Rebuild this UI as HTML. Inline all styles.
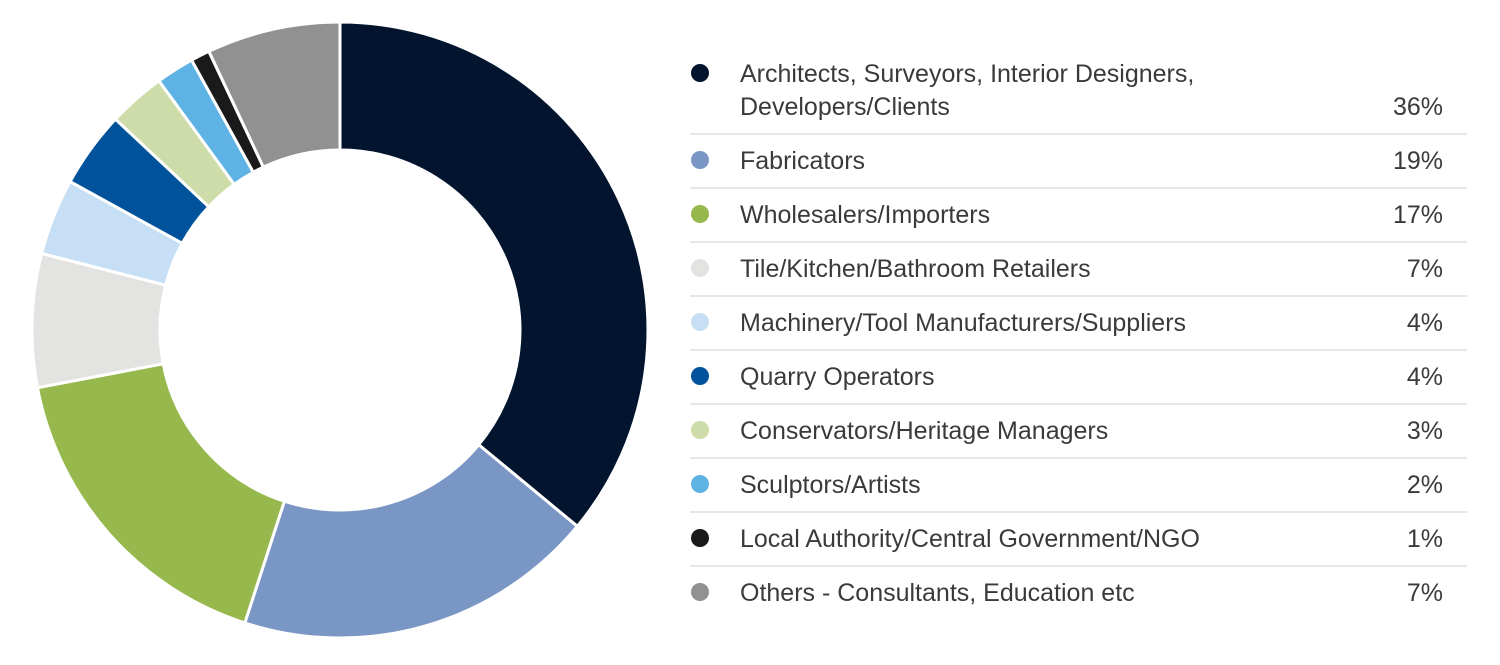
<!DOCTYPE html>
<html><head><meta charset="utf-8">
<style>
html,body{margin:0;padding:0;background:#fff;}
body{width:1500px;height:665px;position:relative;overflow:hidden;font-family:"Liberation Sans",sans-serif;}
svg{position:absolute;left:0;top:0;}
</style></head>
<body>
<svg id="chart" width="1500" height="665"></svg>
<script>
const categories=["Architects, Surveyors, Interior Designers,|Developers/Clients","Fabricators","Wholesalers/Importers","Tile/Kitchen/Bathroom Retailers","Machinery/Tool Manufacturers/Suppliers","Quarry Operators","Conservators/Heritage Managers","Sculptors/Artists","Local Authority/Central Government/NGO","Others - Consultants, Education etc"];
const values=[36,19,17,7,4,4,3,2,1,7];
const colors=["#02142e","#7a96c5","#96b84c","#e3e3e1","#c6dff5","#00539b","#cddca8","#5eb3e4","#1a1a1a","#919191"];
const NS="http://www.w3.org/2000/svg";
const svg=document.getElementById('chart');
const cx=340,cy=330,R=308,r=180;
const total=values.reduce((a,b)=>a+b,0);
function pt(a,rad){return [cx+rad*Math.sin(a),cy-rad*Math.cos(a)];}
let acc=0;
values.forEach((v,i)=>{
  const a0=acc/total*2*Math.PI; acc+=v; const a1=acc/total*2*Math.PI;
  const large=(a1-a0)>Math.PI?1:0;
  const [x0,y0]=pt(a0,R),[x1,y1]=pt(a1,R),[x2,y2]=pt(a1,r),[x3,y3]=pt(a0,r);
  const p=document.createElementNS(NS,'path');
  p.setAttribute('d',`M${x0},${y0}A${R},${R} 0 ${large} 1 ${x1},${y1}L${x2},${y2}A${r},${r} 0 ${large} 0 ${x3},${y3}Z`);
  p.setAttribute('fill',colors[i]);p.setAttribute('stroke','#fff');p.setAttribute('stroke-width','3');
  
  
  svg.appendChild(p);
});
// legend
categories.forEach((c,i)=>{
  const lines=c.split('|');
  const yc= i===0 ? 73 : 160+(i-1)*54;
  const dot=document.createElementNS(NS,'circle');
  dot.setAttribute('cx',700);dot.setAttribute('cy',yc);dot.setAttribute('r',9);dot.setAttribute('fill',colors[i]);
  
  
  svg.appendChild(dot);
  lines.forEach((ln,j)=>{
    const t=document.createElementNS(NS,'text');
    t.setAttribute('x',740);t.setAttribute('y',yc+9+j*33);
    t.setAttribute('font-size','25');t.setAttribute('fill','#3a3a3a');
    t.textContent=ln;
    
    
    svg.appendChild(t);
  });
  const py= i===0 ? 106 : yc;
  const pv=document.createElementNS(NS,'text');
  pv.setAttribute('x',1443);pv.setAttribute('y',py+9);pv.setAttribute('text-anchor','end');
  pv.setAttribute('font-size','25');pv.setAttribute('fill','#3a3a3a');
  pv.textContent=values[i]+'%';
  
  
  svg.appendChild(pv);
  if(i<categories.length-1){
    const ly= i===0 ? 134 : yc+28;
    const l=document.createElementNS(NS,'line');
    l.setAttribute('x1',690);l.setAttribute('x2',1467);l.setAttribute('y1',ly);l.setAttribute('y2',ly);
    l.setAttribute('stroke','#e6e6e6');l.setAttribute('stroke-width','2');
    
    
    svg.appendChild(l);
  }
});
</script>
</body></html>
